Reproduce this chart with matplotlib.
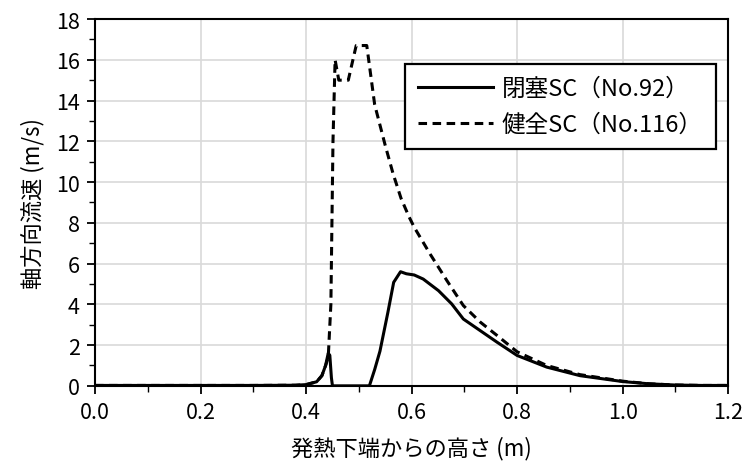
import numpy as np
import matplotlib
matplotlib.use("Agg")
from matplotlib import pyplot as plt
from matplotlib.ticker import MultipleLocator, FormatStrFormatter

plt.rcParams['font.family'] = ['Noto Sans CJK JP', 'DejaVu Sans']

# 閉塞SC (No.92)
x_blocked = [0.0, 0.1, 0.2, 0.3, 0.38, 0.40, 0.42, 0.43, 0.437, 0.442, 0.445, 0.448, 0.45,
             0.48, 0.52, 0.53, 0.54, 0.555, 0.566, 0.579, 0.59, 0.605, 0.622, 0.651,
             0.676, 0.698, 0.73, 0.762, 0.8, 0.856, 0.919, 1.0, 1.05, 1.1, 1.15, 1.2]
y_blocked = [0.02, 0.02, 0.02, 0.02, 0.03, 0.06, 0.2, 0.5, 1.0, 1.6, 1.5, 0.4, 0.0,
             0.0, 0.0, 0.8, 1.7, 3.6, 5.08, 5.6, 5.5, 5.44, 5.24, 4.67,
             4.02, 3.28, 2.71, 2.14, 1.49, 0.92, 0.5, 0.21, 0.1, 0.04, 0.02, 0.02]

# 健全SC (No.116)
x_intact = [0.0, 0.1, 0.2, 0.3, 0.38, 0.40, 0.42, 0.43, 0.437, 0.442, 0.447, 0.451, 0.455,
            0.462, 0.47, 0.48, 0.487, 0.495, 0.505, 0.515, 0.53, 0.55, 0.565, 0.58,
            0.595, 0.605, 0.635, 0.667, 0.698, 0.73, 0.762, 0.8, 0.856, 0.919, 1.0,
            1.05, 1.1, 1.15, 1.2]
y_intact = [0.02, 0.02, 0.02, 0.02, 0.03, 0.06, 0.2, 0.5, 1.0, 1.4, 4.0, 12.0, 16.0,
            15.0, 15.0, 15.0, 15.8, 16.7, 16.7, 16.7, 13.8, 11.8, 10.4, 9.2,
            8.3, 7.78, 6.47, 5.16, 3.94, 3.13, 2.47, 1.67, 1.0, 0.55, 0.23,
            0.1, 0.04, 0.02, 0.02]

fig = plt.figure(figsize=(7.45, 4.77), dpi=100)
ax = fig.add_axes([0.1275, 0.189, 0.85, 0.769])

ax.plot(x_blocked, y_blocked, color='black', lw=2.2, label='閉塞SC（No.92）', zorder=3)
ax.plot(x_intact, y_intact, color='black', lw=2.2, ls=(0, (2.8, 1.8)), label='健全SC（No.116）', zorder=3)

ax.set_xlim(0, 1.2)
ax.set_ylim(0, 18)
ax.xaxis.set_major_locator(MultipleLocator(0.2))
ax.xaxis.set_minor_locator(MultipleLocator(0.1))
ax.yaxis.set_major_locator(MultipleLocator(2))
ax.yaxis.set_minor_locator(MultipleLocator(1))
ax.xaxis.set_major_formatter(FormatStrFormatter('%.1f'))
ax.grid(True, which='major', color='#d9d9d9', lw=1.2, zorder=0)
ax.tick_params(which='major', direction='out', length=6, width=1.3, labelsize=15.5, pad=5)
ax.tick_params(which='minor', direction='out', length=4, width=1.0)
for s in ax.spines.values():
    s.set_linewidth(1.5)
    s.set_color('black')

ax.set_xlabel('発熱下端からの高さ (m)', fontsize=16, labelpad=9)
ax.set_ylabel('軸方向流速 (m/s)', fontsize=16, labelpad=8)

leg = ax.legend(loc='upper right', bbox_to_anchor=(0.98, 0.877), fontsize=17,
                handlelength=3.2, handletextpad=0.35, borderpad=0.55, labelspacing=0.55,
                fancybox=False, framealpha=1, borderaxespad=0)
leg.get_frame().set_edgecolor('black')
leg.get_frame().set_linewidth(1.6)

fig.savefig('out.png', dpi=100)
